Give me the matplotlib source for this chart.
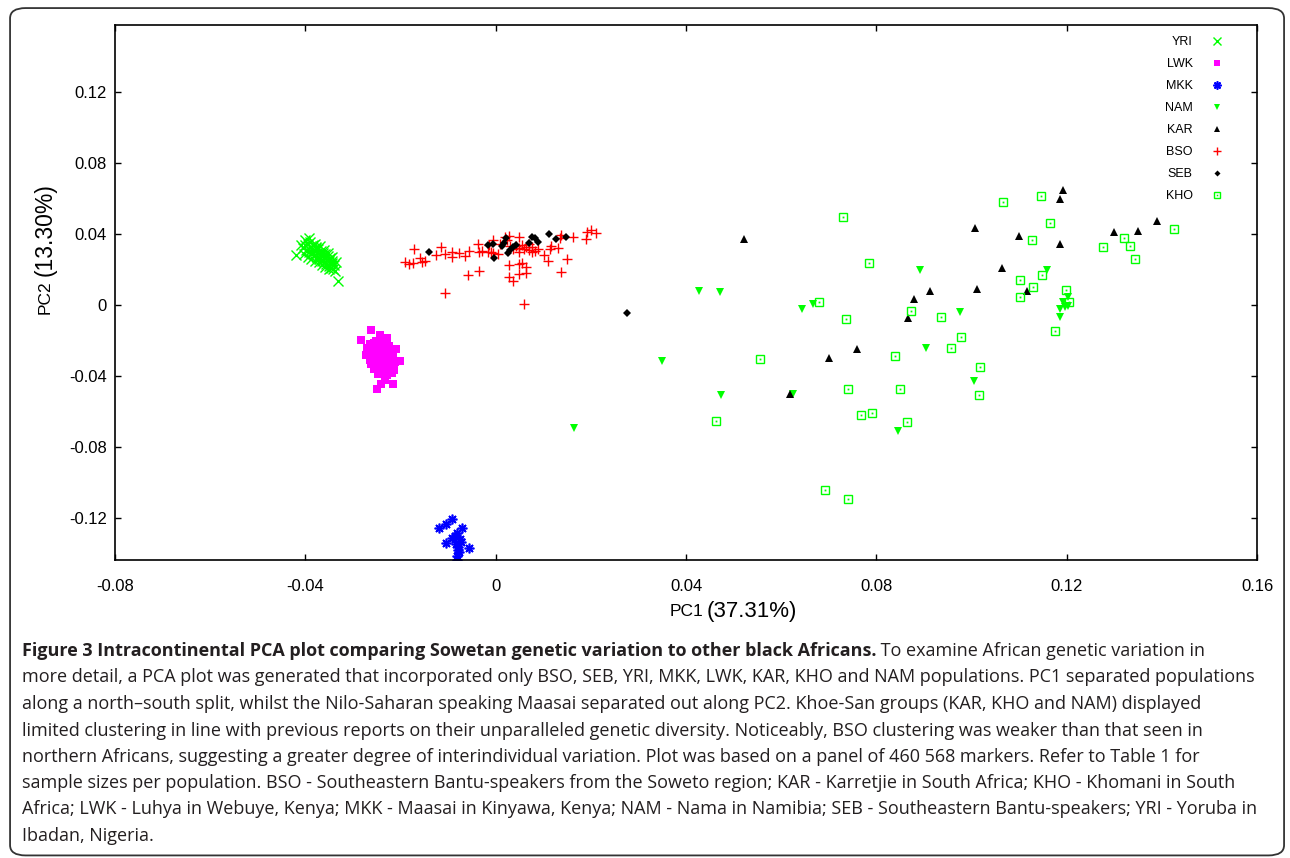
import matplotlib.pyplot as plt
from matplotlib.patches import FancyBboxPatch

plt.rcParams['font.family'] = ['Liberation Sans', 'DejaVu Sans']

# ---- data (PC1, PC2) ----
yri_x = [-0.0410, -0.0405, -0.0400, -0.0398, -0.0395, -0.0392, -0.0390, -0.0388, -0.0386, -0.0384,
         -0.0382, -0.0380, -0.0378, -0.0376, -0.0375, -0.0373, -0.0371, -0.0370, -0.0368, -0.0366,
         -0.0365, -0.0363, -0.0361, -0.0360, -0.0358, -0.0356, -0.0355, -0.0353, -0.0351, -0.0350,
         -0.0348, -0.0346, -0.0345, -0.0343, -0.0341, -0.0340, -0.0338, -0.0402, -0.0395, -0.0388,
         -0.0380, -0.0372, -0.0365, -0.0358, -0.0350, -0.0390, -0.0380, -0.0370, -0.0360, -0.0352,
         -0.0345, -0.0336, -0.0419, -0.0392, -0.0331, -0.0400, -0.0385, -0.0362, -0.0347, -0.0378]
yri_y = [0.0340, 0.0320, 0.0335, 0.0310, 0.0345, 0.0300, 0.0325, 0.0290, 0.0315, 0.0335,
         0.0280, 0.0305, 0.0325, 0.0270, 0.0295, 0.0315, 0.0260, 0.0285, 0.0305, 0.0250,
         0.0275, 0.0295, 0.0240, 0.0265, 0.0285, 0.0230, 0.0255, 0.0275, 0.0220, 0.0245,
         0.0265, 0.0210, 0.0235, 0.0250, 0.0200, 0.0225, 0.0190, 0.0285, 0.0270, 0.0260,
         0.0250, 0.0240, 0.0225, 0.0215, 0.0205, 0.0355, 0.0345, 0.0330, 0.0310, 0.0290,
         0.0270, 0.0240, 0.0282, 0.0377, 0.0135, 0.0365, 0.0300, 0.0280, 0.0230, 0.0318]

lwk_x = [-0.0262, -0.0243, -0.0229, -0.0283, -0.0252, -0.0273, -0.0210, -0.0201, -0.0248, -0.0214,
         -0.0233, -0.0241, -0.0216, -0.0250,
         -0.0265, -0.0255, -0.0245, -0.0235, -0.0225, -0.0270, -0.0260, -0.0250, -0.0240, -0.0230,
         -0.0220, -0.0265, -0.0255, -0.0245, -0.0235, -0.0225, -0.0215, -0.0260, -0.0250, -0.0240,
         -0.0230, -0.0220, -0.0265, -0.0255, -0.0245, -0.0235, -0.0225, -0.0212, -0.0262, -0.0250,
         -0.0240, -0.0228, -0.0218, -0.0255, -0.0243, -0.0232, -0.0222, -0.0238, -0.0228, -0.0218]
lwk_y = [-0.0141, -0.0169, -0.0186, -0.0197, -0.0203, -0.0282, -0.0248, -0.0316, -0.0389, -0.0366,
         -0.0423, -0.0445, -0.0445, -0.0473,
         -0.0220, -0.0215, -0.0210, -0.0220, -0.0230, -0.0245, -0.0240, -0.0235, -0.0245, -0.0250,
         -0.0255, -0.0265, -0.0260, -0.0270, -0.0265, -0.0275, -0.0280, -0.0290, -0.0285, -0.0295,
         -0.0290, -0.0300, -0.0310, -0.0315, -0.0320, -0.0310, -0.0325, -0.0320, -0.0335, -0.0340,
         -0.0335, -0.0345, -0.0340, -0.0360, -0.0355, -0.0365, -0.0355, -0.0380, -0.0395, -0.0385]

mkk_x = [-0.0092, -0.0105, -0.0120, -0.0071, -0.0082, -0.0092, -0.0105, -0.0073, -0.0080, -0.0078,
         -0.0057, -0.0082, -0.0082, -0.0086, -0.0076, -0.0084, -0.0079]
mkk_y = [-0.1206, -0.1234, -0.1256, -0.1256, -0.1285, -0.1313, -0.1341, -0.1335, -0.1363, -0.1392,
         -0.1369, -0.1414, -0.1437, -0.1300, -0.1320, -0.1345, -0.1380]

nam_x = [0.0892, 0.0428, 0.0472, 0.0644, 0.0667, 0.0904, 0.0350, 0.0474, 0.0625, 0.0845,
         0.1158, 0.0976, 0.1202, 0.1192, 0.1202, 0.1187, 0.1185, 0.1196, 0.1005, 0.0164]
nam_y = [0.0197, 0.0079, 0.0073, -0.0023, 0.0006, -0.0242, -0.0316, -0.0507, -0.0501, -0.0710,
         0.0197, -0.0039, 0.0045, 0.0017, -0.0006, -0.0023, -0.0068, -0.0011, -0.0428, -0.0693]

kar_x = [0.0522, 0.0879, 0.0866, 0.0759, 0.0701, 0.0619, 0.1192, 0.1185, 0.1007, 0.1099,
         0.1185, 0.1299, 0.1349, 0.1389, 0.1064, 0.0913, 0.1011, 0.1116]
kar_y = [0.0372, 0.0034, -0.0073, -0.0248, -0.0299, -0.0501, 0.0648, 0.0597, 0.0434, 0.0389,
         0.0344, 0.0411, 0.0417, 0.0473, 0.0208, 0.0079, 0.0090, 0.0079]

bso_x = [-0.0191, -0.0183, -0.0174, -0.0172, -0.0159, -0.0155, -0.0149, -0.0126, -0.0115, -0.0107,
         -0.0092, -0.0092, -0.0078, -0.0065, -0.0057, -0.0038, -0.0036, -0.0034, -0.0059, -0.0107,
         -0.0029, -0.0017, -0.0010, -0.0006, 0.0004, 0.0010, 0.0019, 0.0027, 0.0027, 0.0048,
         0.0050, 0.0055, 0.0063, 0.0048, 0.0063, 0.0029, 0.0036, 0.0059,
         0.0042, 0.0048, 0.0055, 0.0059, 0.0063, 0.0069, 0.0076, 0.0082, 0.0088, 0.0036,
         0.0031, 0.0069, 0.0050, 0.0076,
         0.0101, 0.0111, 0.0117, 0.0115, 0.0132, 0.0136, 0.0138, 0.0149, 0.0138, 0.0162,
         0.0189, 0.0191, 0.0201, 0.0210, 0.0023, -0.0006, -0.0015]
bso_y = [0.0242, 0.0231, 0.0237, 0.0316, 0.0265, 0.0242, 0.0248, 0.0282, 0.0327, 0.0287,
         0.0299, 0.0270, 0.0293, 0.0276, 0.0304, 0.0344, 0.0299, 0.0192, 0.0169, 0.0068,
         0.0304, 0.0299, 0.0299, 0.0366, 0.0287, 0.0344, 0.0383, 0.0389, 0.0225, 0.0383,
         0.0231, 0.0237, 0.0214, 0.0175, 0.0180, 0.0158, 0.0135, 0.0006,
         0.0332, 0.0321, 0.0338, 0.0316, 0.0327, 0.0310, 0.0299, 0.0304, 0.0316, 0.0316,
         0.0332, 0.0344, 0.0299, 0.0327,
         0.0282, 0.0248, 0.0332, 0.0316, 0.0321, 0.0377, 0.0394, 0.0259, 0.0186, 0.0383,
         0.0372, 0.0411, 0.0423, 0.0406, 0.0366, 0.0293, 0.0338]

seb_x = [-0.0141, -0.0017, -0.0006, -0.0004, 0.0013, 0.0017, 0.0021, 0.0025, 0.0031, 0.0036,
         0.0042, 0.0069, 0.0076, 0.0082, 0.0088, 0.0113, 0.0126, 0.0147, 0.0275]
seb_y = [0.0299, 0.0338, 0.0344, 0.0265, 0.0332, 0.0349, 0.0377, 0.0293, 0.0310, 0.0327,
         0.0338, 0.0349, 0.0383, 0.0377, 0.0355, 0.0400, 0.0372, 0.0383, -0.0045]

kho_x = [0.0730, 0.0785, 0.0680, 0.0873, 0.0736, 0.0556, 0.0839, 0.0741, 0.0850, 0.0768,
         0.0791, 0.0864, 0.0462, 0.0692, 0.0741, 0.1146, 0.1066, 0.1166, 0.1127, 0.1425,
         0.1320, 0.1276, 0.1334, 0.1343, 0.1101, 0.1148, 0.1129, 0.1101, 0.1198, 0.1204,
         0.0936, 0.0978, 0.0957, 0.1018, 0.1015, 0.1175]
kho_y = [0.0496, 0.0237, 0.0017, -0.0034, -0.0079, -0.0304, -0.0287, -0.0473, -0.0473, -0.0620,
         -0.0608, -0.0659, -0.0654, -0.1042, -0.1093, 0.0614, 0.0580, 0.0462, 0.0366, 0.0428,
         0.0377, 0.0327, 0.0332, 0.0259, 0.0141, 0.0169, 0.0101, 0.0045, 0.0085, 0.0017,
         -0.0068, -0.0180, -0.0242, -0.0349, -0.0507, -0.0146]

xticks = [-0.08, -0.04, 0, 0.04, 0.08, 0.12, 0.16]
xtick_labels = ["-0.08", "-0.04", "0", "0.04", "0.08", "0.12", "0.16"]
yticks = [-0.12, -0.08, -0.04, 0, 0.04, 0.08, 0.12]
ytick_labels = ["-0.12", "-0.08", "-0.04", "0", "0.04", "0.08", "0.12"]

caption_bold = "Figure 3 Intracontinental PCA plot comparing Sowetan genetic variation to other black Africans."
caption_lines = [
    " To examine African genetic variation in",
    "more detail, a PCA plot was generated that incorporated only BSO, SEB, YRI, MKK, LWK, KAR, KHO and NAM populations. PC1 separated populations",
    "along a north\u2013south split, whilst the Nilo-Saharan speaking Maasai separated out along PC2. Khoe-San groups (KAR, KHO and NAM) displayed",
    "limited clustering in line with previous reports on their unparalleled genetic diversity. Noticeably, BSO clustering was weaker than that seen in",
    "northern Africans, suggesting a greater degree of interindividual variation. Plot was based on a panel of 460 568 markers. Refer to Table 1 for",
    "sample sizes per population. BSO - Southeastern Bantu-speakers from the Soweto region; KAR - Karretjie in South Africa; KHO - Khomani in South",
    "Africa; LWK - Luhya in Webuye, Kenya; MKK - Maasai in Kinyawa, Kenya; NAM - Nama in Namibia; SEB - Southeastern Bantu-speakers; YRI - Yoruba in",
    "Ibadan, Nigeria.",
]

GREEN = "#00ff00"

fig = plt.figure(figsize=(12.9, 8.58), dpi=100)
ax = fig.add_axes([0.08915, 0.34732, 0.88527, 0.62354])

# outer rounded frame
frame = FancyBboxPatch((0.0078, 0.003), 0.9876, 0.9876,
                       boxstyle="round,pad=0,rounding_size=0.012",
                       transform=fig.transFigure, fill=False,
                       edgecolor="#333333", linewidth=1.3)
fig.patches.append(frame)

h_yri, = ax.plot(yri_x, yri_y, ls="none", marker="x", ms=7, mew=1.0, color=GREEN)
h_lwk, = ax.plot(lwk_x, lwk_y, ls="none", marker="s", ms=5.5, mew=0, color="#ff00ff")
h_mkk, = ax.plot(mkk_x, mkk_y, ls="none", marker=(8, 2, 0), ms=7, mew=1.2, color="#0000ff")
h_nam, = ax.plot(nam_x, nam_y, ls="none", marker="v", ms=5.5, mew=0, color=GREEN)
h_kar, = ax.plot(kar_x, kar_y, ls="none", marker="^", ms=5.5, mew=0, color="black")
h_bso, = ax.plot(bso_x, bso_y, ls="none", marker="+", ms=6.5, mew=1.0, color="#ff0000")
h_seb, = ax.plot(seb_x, seb_y, ls="none", marker="D", ms=3.6, mew=0, color="black")
h_kho1, = ax.plot(kho_x, kho_y, ls="none", marker="s", ms=5.5, mew=1.0, mfc="none", color=GREEN)
h_kho2, = ax.plot(kho_x, kho_y, ls="none", marker="s", ms=1.3, mew=0, color=GREEN)

ax.set_xlim(-0.08, 0.16)
ax.set_ylim(-0.1437, 0.1577)
ax.set_xticks(xticks)
ax.set_xticklabels(xtick_labels)
ax.set_yticks(yticks)
ax.set_yticklabels(ytick_labels)
ax.tick_params(axis="both", direction="in", length=4, width=1, top=True, right=True,
               labelsize=12)
ax.tick_params(axis="x", pad=14)
ax.tick_params(axis="y", pad=6)
for sp in ax.spines.values():
    sp.set_linewidth(1.2)

handles = [h_yri, h_lwk, h_mkk, h_nam, h_kar, h_bso, h_seb, (h_kho1, h_kho2)]
labels = ["YRI", "LWK", "MKK", "NAM", "KAR", "BSO", "SEB", "KHO"]
ax.legend(handles, labels, loc="upper right", bbox_to_anchor=(0.9745, 0.988),
          frameon=False, markerfirst=False, fontsize=9, handlelength=1.0,
          handletextpad=1.4, labelspacing=0.80, borderaxespad=0,
          markerscale=0.85)

# axis labels with the two-size look of the original
fig.text(703 / 1290, 1 - 612 / 858, "PC1", ha="right", va="center", fontsize=12.5)
fig.text(707 / 1290, 1 - 612 / 858, "(37.31%)", ha="left", va="center", fontsize=16)
fig.text(0.035, 1 - 280 / 858, "PC2", ha="center", va="top", rotation=90, fontsize=12.5)
fig.text(0.035, 1 - 276 / 858, "(13.30%)", ha="center", va="bottom", rotation=90, fontsize=16.5)

# caption
cap_font = ["Open Sans", "DejaVu Sans"]
cap_size = 13
cap_color = "#231f20"
x0 = 22 / 1290
line_y = [651, 677.5, 704, 730.5, 757, 783, 809.5, 836]
t_bold = fig.text(x0, 1 - line_y[0] / 858, caption_bold, family=cap_font, weight="bold",
                  fontsize=cap_size, color=cap_color, va="center", ha="left")
fig.canvas.draw()
bb = t_bold.get_window_extent(renderer=fig.canvas.get_renderer())
fig.text(bb.x1 / fig.bbox.width, 1 - line_y[0] / 858, caption_lines[0], family=cap_font,
         fontsize=cap_size, color=cap_color, va="center", ha="left")
for txt, yy in zip(caption_lines[1:], line_y[1:]):
    fig.text(x0, 1 - yy / 858, txt, family=cap_font, fontsize=cap_size,
             color=cap_color, va="center", ha="left")

plt.savefig("out.png", dpi=100)
